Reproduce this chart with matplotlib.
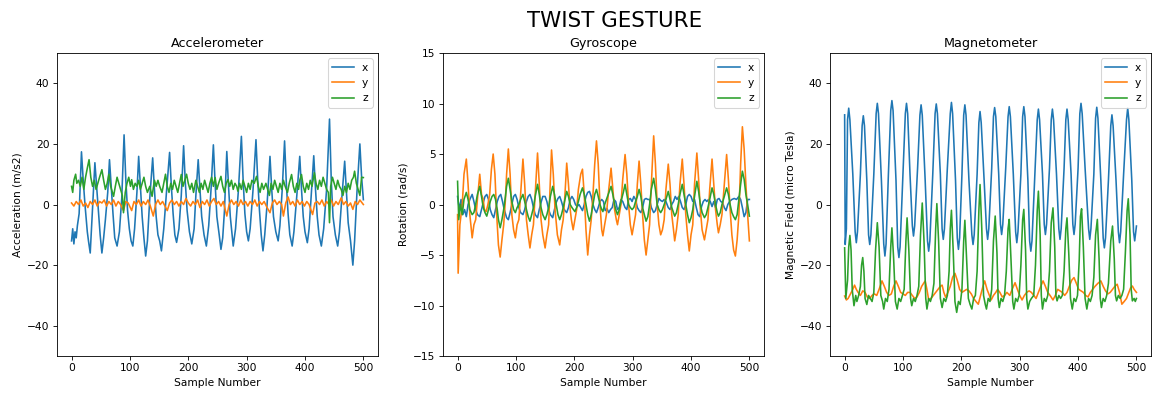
import matplotlib
matplotlib.use('Agg')
import matplotlib.pyplot as plt
import numpy as np

# Values (sample number, value)
acc_x = [(0,-12),(2,-8),(4,-13),(6,-9),(8,-11),(10,-7),(13,-3),(17,17.4),(20,8),(23,0),(27,-9),(29,-12),(32,-16),(35,-5),
         (40,13.8),(43,6),(46,-2),(49,-10),(52,-16),(55,-11),(58,-5),(62,4),(65,14.8),(68,6),(71,-3),(74,-11),(78,-13.7),
         (82,-9),(86,2),(90,23),(93,8),(96,-2),(99,-8),(102,-12),(105,-13.7),(108,-8),(112,4),(115,15.9),(118,6),(121,-4),
         (124,-11),(127,-17),(130,-12),(134,2),(139,15.4),(142,5),(145,-4),(148,-10),(151,-12),(154,-15.3),(158,-8),(163,5),
         (168,17.2),(171,6),(174,-3),(177,-10),(180,-12.5),(184,-8),(188,3),(192,19.4),(195,7),(198,-2),(202,-9),(206,-13),
         (210,-8),(213,3),(217,14.8),(220,5),(223,-4),(227,-10),(231,-13.7),(235,-7),(239,5),(243,19.7),(246,7),(249,-4),
         (253,-10),(256,-14.8),(259,-11),(262,-2),(266,17.5),(269,6),(272,-4),(275,-10),(277,-13.7),(281,-8),(286,5),
         (291,22.5),(294,8),(297,-3),(300,-9),(303,-12),(306,-8),(311,5),(316,21.4),(319,8),(322,-2),(325,-10),(328,-15.3),
         (331,-10),(335,0),(340,15.9),(343,5),(346,-4),(350,-9),(354,-12),(357,-7),(361,5),(365,21),(368,7),(371,-3),
         (374,-10),(378,-13.7),(381,-9),(386,3),(391,15.9),(394,5),(397,-4),(400,-9),(404,-12.6),(407,-8),(411,4),
         (415,16.1),(418,5),(421,-4),(424,-10),(428,-13.7),(432,-8),(437,5),(442,28.2),(445,8),(448,-4),(452,-10),
         (456,-13.7),(459,-9),(463,2),(468,14.3),(471,4),(474,-6),(478,-12),(482,-20),(485,-12),(489,4),(494,20),(497,9),
         (500,1.6)]
acc_y = [(0,0.5),(4,-0.5),(8,1),(12,0),(16,1.5),(20,-0.5),(24,0.5),(28,-1),(32,1),(36,0),(40,1.5),(44,-0.5),(48,1),
         (52,0.5),(56,1.5),(60,-0.5),(64,1),(68,0),(72,1.5),(76,-0.5),(80,1),(84,0),(89,-2),(93,1),(97,0.5),(103,-2),
         (107,1),(111,0),(115,1.5),(119,-0.5),(123,1),(127,0),(131,1.5),(135,-0.5),(140,-3.8),(144,0),(148,1.5),(152,0),
         (156,1),(160,-0.5),(164,-2),(168,0.5),(172,1.5),(176,0),(180,1),(184,-0.5),(188,1),(192,0),(196,2),(200,0.5),
         (204,-0.5),(208,1),(212,0),(216,1.5),(220,-1),(224,1),(228,0),(232,1.5),(236,-0.5),(240,1),(244,2),(248,0),
         (252,1),(256,-0.5),(260,1),(266,-3.8),(270,0),(274,1.5),(278,0),(282,1),(286,-0.5),(290,1.5),(294,0),(298,1),
         (302,-0.5),(306,1),(310,0),(314,1.5),(318,-0.5),(322,1),(326,0),(330,1),(335,-1),(340,-2.7),(344,0.5),(348,1.5),
         (352,0),(356,1),(360,0),(363,-3.8),(367,0.5),(371,2.5),(375,0),(379,1),(383,-0.5),(387,1.5),(391,0),(395,1),
         (399,-0.5),(403,1),(407,0),(413,-3.3),(417,0.5),(421,1),(425,0),(429,1.5),(433,-0.5),(437,1),(441,0),(445,1.5),
         (449,-0.5),(453,1),(457,0),(462,2.2),(466,0),(470,1),(474,-0.5),(478,0.5),(482,-1.6),(486,1),(490,0),(494,1.5),
         (496,1),(500,0)]
acc_z = [(0,6),(2,4),(4,8),(7,10),(9,7),(12,8),(15,6),(18,9),(21,5),(24,9),(27,12),(30,14.8),(33,9),(36,6),(39,8),
         (42,5),(45,7),(48,9),(52,11.5),(55,8),(58,5),(61,7),(64,10),(67,6),(70,4),(72,2.7),(75,6),(78,9),(81,7),(84,5),
         (87,3),(89,-2.7),(92,4),(95,7),(98,9),(101,6),(103,8.2),(106,5),(109,7),(112,6),(115,8),(118,5),(121,7),(124,9),
         (127,6),(130,4),(134,6),(138,2.7),(142,8),(145,6),(148,8),(151,6),(155,4),(158,7),(161,10),(164,6),(167,4),
         (170,7),(173,5),(176,8),(179,6),(182,4),(185,7),(188,9.9),(191,6),(194,8),(197,10),(200,7),(203,5),(206,7),
         (209,4),(213,8),(216,6),(219,4),(222,7),(225,5),(228,8),(231,6),(234,4),(237,7),(240,9),(243,6),(246,8.9),
         (249,5),(252,7),(256,9.3),(259,6),(262,4),(265,7),(268,8.2),(271,6),(274,8),(277,5),(280,7),(283,6),(285,4.4),
         (288,7),(291,5),(294,8),(297,6),(300,4),(303,7),(306,5),(309,8),(313,7),(317,9.3),(320,6),(323,4),(326,7),
         (329,5),(333,7),(336,5),(339,3),(342,7),(345,5),(348,8),(351,6),(354,4),(357,7),(360,5),(363,8),(366,6),(370,4),
         (373,7),(377,9.9),(380,6),(383,4),(386,7),(389,5),(391,8),(394,9.9),(397,6),(400,4),(403,7),(406,5),(409,8),
         (412,6),(416,10.5),(419,7),(422,5),(425,8),(428,6),(431,9),(434,7),(437,5),(440,4),(442,-6),(444,6),(447,9),
         (450,7),(453,5),(456,8),(459,6),(462,5),(465,3),(468,6),(471,4),(474,7),(477,5),(480,8),(483,9),(485,11),
         (488,7),(491,5),(494,3),(497,9),(500,8.9)]

gyr_x = [(0,0.8),(3,-0.5),(6,0.5),(9,-1),(12,-0.5),(15,-1.2),(18,0),(21,0.5),(25,1),(28,0.3),(31,-0.5),(34,-1),(38,-1.2),
         (41,-0.5),(44,0.2),(47,0.8),(50,1),(53,0.5),(56,-0.5),(59,-1),(62,-1.3),(65,-0.5),(68,0.3),(71,0.8),(74,1),
         (77,0.3),(80,-0.5),(84,-1.3),(87,-1.5),(90,-0.8),(93,0),(96,0.8),(99,1),(102,0.5),(105,-0.3),(108,-0.8),(112,-1),
         (115,-0.5),(118,0.3),(121,0.8),(124,1),(127,0.5),(130,-0.3),(133,-1),(137,-1.3),(140,-0.5),(143,0.2),(146,0.8),
         (150,0.8),(153,0.3),(156,-0.5),(159,-1),(163,-1.3),(166,-0.5),(169,0.2),(172,0.6),(175,0.8),(178,0.3),(181,-0.3),
         (184,-0.6),(187,-0.8),(190,-0.3),(193,0.5),(196,0.8),(199,0.5),(202,0),(205,-0.2),(208,0),(211,-0.3),(214,-0.6),
         (217,0),(220,0.8),(223,1.2),(226,1.3),(229,0.8),(232,0),(235,-0.5),(238,-0.8),(241,-0.3),(244,0.3),(247,0.5),
         (250,0.3),(253,-0.6),(256,-0.4),(259,-0.8),(262,-0.5),(265,-0.3),(268,0.5),(271,0.3),(274,-0.5),(277,-0.3),
         (280,0.5),(283,0.3),(287,-0.3),(290,-0.5),(293,0.5),(296,0.6),(299,0.3),(302,0.8),(305,0.5),(308,-0.3),
         (311,-0.6),(314,-0.8),(317,-0.3),(320,0.5),(323,0.6),(326,0.5),(329,0.5),(332,-0.3),(336,-0.8),(339,-0.6),
         (342,0),(345,0.6),(348,0.4),(351,0.3),(354,0.5),(357,0.3),(361,-0.3),(364,-0.5),(367,0),(370,0.3),(373,0.8),
         (376,0.5),(379,0.8),(382,0.3),(385,-0.3),(388,-0.5),(391,0),(394,0.8),(397,1),(400,0.8),(403,0.3),(406,0.5),
         (409,-0.3),(412,-1),(415,-1.2),(418,-0.2),(421,0.3),(424,0.5),(427,0.3),(430,0.5),(433,0.3),(436,-0.2),
         (439,0.3),(442,-0.3),(445,0.5),(448,0.6),(451,0.3),(454,0.2),(457,-0.3),(460,-0.6),(463,0),(466,0.3),(470,0.5),
         (474,0.6),(478,0.5),(482,0.8),(485,0.5),(488,-0.3),(491,-1.2),(494,-0.8),(497,0.5),(500,0.5)]
gyr_y = [(0,-1),(1,-6.8),(4,-2),(8,0),(11,3),(15,4.5),(18,2),(21,-1),(25,-3.3),(28,-2),(31,-1.5),(34,0.5),(38,3),(41,1),
         (44,0.5),(46,-0.5),(49,-0.7),(52,0),(55,1),(58,3.5),(61,5),(64,3),(67,-1),(70,-4),(73,-5.2),(76,-3.5),(79,-2),
         (82,0.5),(84,3),(87,5.5),(90,3),(93,-1),(96,-2.5),(99,-3.3),(102,-2),(105,-1.5),(108,1),(112,4.5),(115,2),
         (118,-1.5),(121,-3),(124,-4.3),(127,-3),(130,-2),(133,1),(137,5.1),(140,2),(143,-1.5),(146,-3),(150,-4.3),
         (153,-3),(156,-2),(158,1),(161,5.4),(164,3),(167,-0.5),(171,-3),(175,-4),(178,-2.5),(181,-1.5),(184,1),(187,4.1),
         (190,2),(193,-0.5),(195,-1.5),(198,-2.5),(201,-1.5),(204,-0.5),(207,1.5),(211,3),(214,3.5),(217,1),(220,-2.5),
         (223,-5),(226,-3),(229,-1.5),(232,1),(235,4),(238,6.3),(241,4),(244,0),(247,-2.5),(249,-3.1),(252,-2),(255,-1),
         (259,1.5),(263,3.6),(266,1.5),(269,-0.5),(272,-1.5),(274,-2),(277,-1),(280,0),(283,2.5),(287,4.95),(290,3),
         (293,0),(296,-2),(299,-3),(302,-2),(305,-1),(308,2),(311,4.3),(314,2),(317,-1),(320,-3.5),(323,-5),(326,-3.5),
         (329,-2),(332,2),(336,6.8),(339,4),(342,0),(345,-2),(348,-3),(351,-2.5),(354,-1.5),(357,1.5),(361,4.0),(364,2),
         (367,-1),(370,-2.5),(372,-3.6),(375,-2.5),(378,-1),(381,2),(385,4.5),(388,2),(391,-1),(394,-3),(397,-4.6),
         (400,-3),(403,-2),(406,2),(410,5.1),(413,2.5),(416,-0.5),(419,-2.5),(423,-3.5),(426,-2.5),(429,-1.5),(432,1.5),
         (436,4.5),(439,2),(442,-0.5),(445,-2),(447,-2.8),(450,-2),(453,-1),(457,2),(461,4.95),(464,2.5),(467,-0.5),
         (470,-3),(473,-4.5),(476,-5.1),(479,-3.5),(482,-1),(485,4),(488,7.7),(491,5.5),(494,2),(497,-1),(500,-3.6)]
gyr_z = [(0,2.3),(2,-1.5),(5,0),(8,-1),(11,0.5),(15,1.2),(18,0.5),(21,-0.5),(25,-1),(28,-0.8),(31,0),(34,1),(38,1.8),
         (41,0.8),(44,-0.3),(47,-0.8),(50,-1.15),(53,-0.5),(56,0.3),(59,0.8),(62,1),(65,0.5),(68,-0.5),(70,-1.5),(73,-2.3),
         (76,-1.5),(79,-0.5),(82,0.8),(84,1.8),(87,2.6),(90,1.5),(93,0.3),(96,-0.5),(99,-0.8),(102,-0.3),(105,0),(108,0.5),
         (112,1.0),(115,0.3),(118,-0.5),(121,-1.2),(124,-1.65),(127,-1),(130,-0.3),(133,0.8),(137,2.0),(140,1),(143,-0.3),
         (146,-1),(150,-1.5),(153,-1),(156,-0.3),(159,0.8),(163,1.8),(166,1),(169,0),(172,-1),(175,-1.5),(178,-1),
         (181,-0.3),(184,0.5),(187,1.3),(190,0.8),(193,0),(196,-0.3),(201,-0.7),(204,-0.3),(207,0.3),(210,1),(214,1.65),
         (217,1),(220,0),(223,-1),(226,-1.65),(229,-1),(232,0),(235,1),(238,1.5),(241,0.8),(244,0),(247,-0.5),(249,-0.7),
         (252,0),(255,0.5),(259,1.2),(263,1.8),(266,1),(269,0),(271,-0.5),(274,-1.0),(277,-0.5),(280,0.3),(284,1.2),
         (287,2.0),(290,1),(293,0),(296,-0.3),(299,-0.5),(302,-0.3),(305,0.3),(308,0.8),(311,1.5),(314,0.8),(317,-0.3),
         (320,-1),(323,-1.65),(326,-1.2),(329,0),(332,1.5),(336,2.6),(339,1.5),(342,0),(345,-0.5),(348,-0.8),(351,-0.5),
         (354,0),(357,0.5),(361,1.3),(364,0.5),(367,-0.3),(370,-0.8),(372,-1.15),(375,-0.8),(378,0),(381,1),(385,2.0),
         (388,1),(391,0),(394,-1),(397,-1.8),(400,-1.3),(403,-0.5),(406,0.8),(410,2.3),(413,1.3),(416,0),(419,-0.8),
         (423,-1.3),(426,-1),(429,-0.3),(432,0.5),(436,1.65),(439,1),(442,0),(445,-0.8),(447,-1.15),(450,-0.8),(453,0),
         (457,0.8),(461,1.65),(464,1),(467,0),(470,-0.8),(473,-1.2),(476,-1.5),(479,-1),(482,0.5),(485,2),(488,3.3),
         (491,2.5),(494,1),(497,0),(500,-1.15)]

mag_x = [(0,29.6),(1,-13.2),(3,-8),(5,28),(7,31.8),(9,28),(14,10),(18,-9),(20,-12.6),(22,-9),(27,10),(30,26),(32,29.3),
         (34,26),(38,8),(41,-10),(43,-13.2),(45,-10),(50,10),(54,30),(56,33.4),(58,30),(63,8),(67,-13),(69,-17),(71,-13),
         (75,10),(79,31),(81,34.3),(83,31),(88,8),(91,-14),(93,-17.5),(95,-14),(100,10),(104,30),(106,33.4),(108,30),
         (112,10),(116,-7),(118,-10.4),(120,-7),(125,12),(129,29.5),(131,32.9),(133,29.5),(138,8),(142,-12),(144,-15.4),
         (146,-12),(151,10),(155,30),(157,33.2),(159,30),(164,10),(167,-8),(169,-11.5),(171,-8),(176,12),(181,30),
         (183,33.7),(185,30),(190,8),(193,-11),(195,-14.8),(197,-11),(201,10),(204,29.5),(206,32.9),(208,29.5),(213,8),
         (218,-10),(220,-13.2),(222,-10),(227,10),(230,27),(232,30.7),(234,27),(239,8),(243,-8),(245,-11.5),(247,-8),
         (252,12),(255,29),(257,32),(259,29),(264,10),(267,-6.5),(269,-9.9),(271,-6.5),(276,12),(280,29),(282,32.3),
         (284,29),(289,10),(293,-9),(295,-12.6),(297,-9),(302,10),(305,29),(307,32.3),(309,29),(314,8),(317,-12),
         (319,-15.4),(321,-12),(326,10),(330,28),(332,31.5),(334,28),(339,10),(342,-6.5),(344,-9.9),(346,-6.5),(351,12),
         (354,28),(356,31.5),(358,28),(363,10),(367,-8),(369,-11.5),(371,-8),(376,12),(379,28),(381,31.5),(383,28),
         (388,10),(391,-6.5),(393,-9.9),(395,-6.5),(400,12),(403,30),(405,33.4),(407,30),(412,12),(418,-8),(420,-11.5),
         (422,-8),(427,10),(430,28.5),(432,32.1),(434,28.5),(439,8),(443,-11),(445,-14.3),(447,-11),(452,8),(456,26),
         (458,29.6),(460,26),(465,8),(469,-9),(471,-12.6),(473,-9),(478,10),(483,28),(485,31.8),(487,28),(492,8),
         (495,-9),(497,-12),(500,-7.1)]
mag_y = [(0,-30.2),(3,-31.5),(6,-31),(10,-29.5),(14,-28),(17,-26.6),(20,-28),(23,-29),(27,-30),(31,-28.5),(35,-29),
         (39,-30.6),(43,-31),(47,-30),(51,-29.5),(55,-30),(59,-28),(64,-25.2),(68,-27),(72,-29),(76,-30),(80,-29.5),
         (84,-27),(88,-25.2),(92,-27),(96,-29),(100,-29.5),(104,-30),(108,-29),(112,-29),(116,-30),(120,-31),(124,-30.5),
         (128,-29),(132,-27),(138,-25.2),(141,-28),(144,-31.5),(148,-31),(152,-30),(156,-29),(160,-28),(164,-27),
         (167,-26.6),(170,-29),(173,-30.6),(177,-29),(181,-27),(185,-24),(189,-22.7),(193,-25),(197,-28),(201,-29),
         (205,-28.5),(209,-28),(213,-28.5),(217,-29.5),(221,-31),(225,-32),(229,-32.9),(233,-30),(237,-27),(240,-25.2),
         (244,-28),(248,-30),(251,-31.5),(255,-30),(259,-29),(262,-28),(266,-29),(270,-30.5),(274,-30),(278,-29),
         (283,-30),(287,-28),(292,-25.8),(296,-28),(300,-30),(304,-31.5),(308,-30),(312,-29),(316,-28.5),(320,-29),
         (324,-30),(328,-31),(332,-29),(336,-27),(340,-25.2),(344,-27),(348,-29),(352,-30),(357,-31.5),(361,-30),
         (365,-28),(369,-28.5),(373,-29),(377,-30),(381,-29),(385,-27),(389,-25),(393,-24.1),(397,-26),(401,-28),
         (405,-28.5),(409,-29),(413,-30),(417,-30.5),(421,-29),(425,-28),(429,-27),(434,-26),(439,-25.2),(443,-27),
         (447,-28.5),(451,-29.5),(455,-29),(459,-28),(463,-27),(467,-26.3),(471,-29),(475,-32.9),(479,-32),(483,-31),
         (487,-29),(490,-27.5),(493,-26.9),(496,-28),(500,-29)]
mag_z = [(0,-14.3),(2,-31),(5,-25),(7,-14),(9,-10.2),(11,-15),(13,-28),(16,-33.4),(19,-30),(21,-32),(24,-30),(27,-27),
         (29,-20),(31,-17.5),(33,-22),(35,-31),(38,-33),(41,-30),(44,-31),(47,-32),(50,-29),(53,-15),(56,-6),(59,-14),
         (62,-30),(65,-32),(67,-34.5),(70,-31),(73,-32),(76,-28),(79,-14),(81,-7.7),(84,-18),(87,-32),(90,-34.5),(93,-31),
         (96,-32),(99,-30),(102,-28),(105,-12),(107,-4.4),(110,-15),(113,-31),(115,-33.4),(118,-31),(121,-32),(124,-30),
         (127,-27),(130,-10),(133,0.5),(136,-12),(139,-31),(141,-34.5),(144,-31),(147,-32),(150,-30),(153,-26),(156,-8),
         (158,0.3),(161,-12),(164,-31),(167,-34),(170,-31),(173,-32),(176,-30),(179,-22),(181,-8),(183,-1.9),(186,-15),
         (189,-32),(192,-35.6),(195,-32),(198,-33),(201,-28),(204,-12),(206,-5.2),(209,-18),(212,-31),(215,-33),
         (218,-34.5),(221,-31),(224,-30),(227,-22),(230,-2),(232,6.6),(235,-8),(238,-30),(241,-33),(243,-34.5),(246,-31),
         (249,-32),(252,-28),(255,-12),(258,-3.8),(261,-16),(263,-31),(265,-34),(268,-31),(271,-32),(274,-30),(277,-22),
         (280,-8),(282,-4.9),(285,-18),(288,-32),(290,-34.5),(293,-31),(296,-32),(299,-30),(302,-20),(305,-5),(307,-1.6),
         (310,-15),(312,-31),(314,-34.5),(317,-32),(320,-31),(324,-30),(327,-20),(330,-2),(332,4.4),(335,-10),(337,-30),
         (339,-34.5),(342,-31),(345,-32),(348,-30),(351,-22),(354,-6),(357,-1.1),(360,-14),(362,-30),(364,-31.8),
         (367,-30),(370,-31),(373,-30),(376,-22),(379,-8),(381,-4.4),(384,-16),(387,-31),(390,-34.5),(393,-31),(396,-32),
         (399,-30),(402,-18),(404,-4),(406,-1.4),(409,-14),(412,-31),(415,-34.5),(418,-31),(421,-32),(424,-30),(427,-24),
         (430,-10),(433,-4.9),(436,-18),(438,-31),(440,-34),(443,-31),(446,-32),(449,-30),(452,-26),(456,-12),(459,-7.1),
         (462,-18),(464,-30),(466,-31.8),(469,-30),(472,-31),(475,-30),(478,-28),(481,-16),(484,-2),(486,1.9),(489,-10),
         (491,-28),(493,-31.8),(496,-31),(498,-32),(500,-31)]

panels = [
    ('Accelerometer', 'Acceleration (m/s2)', (-50, 50), [acc_x, acc_y, acc_z]),
    ('Gyroscope', 'Rotation (rad/s)', (-15, 15), [gyr_x, gyr_y, gyr_z]),
    ('Magnetometer', 'Magnetic Field (micro Tesla)', (-50, 50), [mag_x, mag_y, mag_z]),
]
axis_labels = ['x', 'y', 'z']

dpi = 1153 / 15
fig = plt.figure(figsize=(15, 394 / dpi), dpi=dpi)
lefts = [0.0494, 0.3842, 0.7199]
for left, (title, ylabel, ylim, series) in zip(lefts, panels):
    ax = fig.add_axes([left, 0.0964, 0.2784, 0.769])
    for s, lab in zip(series, axis_labels):
        arr = np.array(s)
        ax.plot(arr[:, 0], arr[:, 1], label=lab)
    ax.set_ylim(*ylim)
    ax.set_title(title)
    ax.set_xlabel('Sample Number')
    ax.set_ylabel(ylabel)
    ax.legend(loc='upper right')

fig.suptitle('TWIST GESTURE', fontsize=20, x=0.5334, y=0.972, va='top')
fig.savefig('out.png', dpi=dpi)
